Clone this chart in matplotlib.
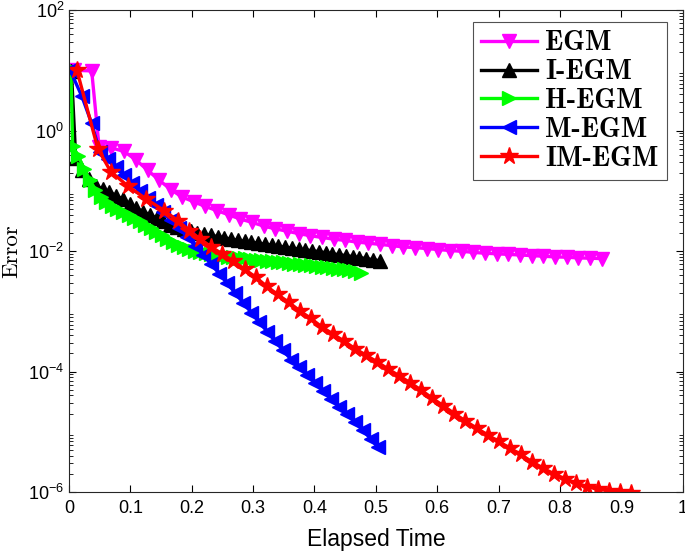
import matplotlib
matplotlib.use("Agg")
import matplotlib.pyplot as plt

# Elapsed time / error
t_egm = [0.008, 0.037, 0.049, 0.068, 0.09, 0.11, 0.128, 0.147, 0.166, 0.184, 0.203, 0.222,
         0.241, 0.26, 0.279, 0.298, 0.317, 0.336, 0.355, 0.374, 0.393, 0.412, 0.431, 0.45,
         0.469, 0.488, 0.507, 0.526, 0.545, 0.564, 0.583, 0.602, 0.621, 0.64, 0.659, 0.678,
         0.697, 0.716, 0.735, 0.754, 0.773, 0.792, 0.811, 0.83, 0.849, 0.868]
e_egm = [10.0, 9.8, 0.54, 0.52, 0.45, 0.32, 0.22, 0.15, 0.105, 0.079, 0.066, 0.055,
         0.047, 0.040, 0.034, 0.030, 0.026, 0.0234, 0.0214, 0.0195, 0.018, 0.0168, 0.0158, 0.0150,
         0.0141, 0.0135, 0.0129, 0.0123, 0.0117, 0.0114, 0.0110, 0.0106, 0.0102, 0.0099, 0.0095, 0.0092,
         0.0090, 0.0088, 0.0086, 0.0084, 0.0082, 0.0080, 0.0079, 0.0077, 0.0076, 0.0075]

t_iegm = [0.004, 0.011, 0.022, 0.033, 0.044, 0.055, 0.066, 0.077, 0.088, 0.099, 0.11, 0.121,
          0.132, 0.143, 0.154, 0.165, 0.176, 0.187, 0.198, 0.209, 0.22, 0.231, 0.242, 0.253,
          0.264, 0.275, 0.286, 0.297, 0.308, 0.319, 0.33, 0.341, 0.352, 0.363, 0.374, 0.385,
          0.396, 0.407, 0.418, 0.429, 0.44, 0.451, 0.462, 0.473, 0.484, 0.495, 0.506]
e_iegm = [9.6, 0.35, 0.22, 0.16, 0.12, 0.107, 0.095, 0.083, 0.072, 0.060, 0.051, 0.045,
          0.040, 0.035, 0.031, 0.0275, 0.025, 0.023, 0.0214, 0.020, 0.019, 0.0182, 0.0174, 0.0166,
          0.0158, 0.0151, 0.0145, 0.0140, 0.0135, 0.0130, 0.0126, 0.0120, 0.0116, 0.0112, 0.0108, 0.0105,
          0.0101, 0.0098, 0.0094, 0.0090, 0.0087, 0.0084, 0.0081, 0.0078, 0.0075, 0.0072, 0.0069]

t_hegm = [0.003, 0.006, 0.015, 0.025, 0.034, 0.043, 0.052, 0.061, 0.07, 0.079, 0.088, 0.097,
          0.106, 0.115, 0.124, 0.133, 0.142, 0.151, 0.16, 0.169, 0.178, 0.187, 0.196, 0.205,
          0.214, 0.223, 0.232, 0.241, 0.25, 0.259, 0.268, 0.277, 0.286, 0.295, 0.304, 0.313,
          0.322, 0.331, 0.34, 0.349, 0.358, 0.367, 0.376, 0.385, 0.394, 0.403, 0.412, 0.421,
          0.43, 0.439, 0.448, 0.457, 0.466, 0.475]
e_hegm = [10.5, 0.55, 0.38, 0.23, 0.151, 0.105, 0.079, 0.066, 0.056, 0.050, 0.0447, 0.0398,
          0.0355, 0.0316, 0.0275, 0.024, 0.0209, 0.0182, 0.0158, 0.0141, 0.0126, 0.0115, 0.0107, 0.0102,
          0.0098, 0.0093, 0.0090, 0.0087, 0.0084, 0.0081, 0.0079, 0.0078, 0.0076, 0.0074, 0.0072, 0.0071,
          0.0069, 0.0068, 0.0066, 0.0065, 0.0063, 0.0062, 0.0060, 0.0059, 0.0058, 0.0056, 0.0055, 0.0054,
          0.0052, 0.0051, 0.0050, 0.0049, 0.0047, 0.0044]

t_megm = [0.002, 0.021, 0.037, 0.05, 0.063, 0.076, 0.089, 0.102, 0.115, 0.128, 0.141, 0.154,
          0.167, 0.18, 0.193, 0.206, 0.219, 0.232, 0.245, 0.258, 0.271, 0.284, 0.297, 0.31,
          0.323, 0.336, 0.349, 0.362, 0.375, 0.388, 0.401, 0.414, 0.427, 0.44, 0.453, 0.466,
          0.479, 0.492, 0.503]
e_megm = [10.0, 3.7, 1.32, 0.447, 0.331, 0.245, 0.182, 0.135, 0.1, 0.0759, 0.0575, 0.0437,
          0.0324, 0.024, 0.0174, 0.0123, 0.0087, 0.0060, 0.0042, 0.0029, 0.0020, 1.38e-3, 9.5e-4, 6.6e-4,
          4.6e-4, 3.2e-4, 2.24e-4, 1.58e-4, 1.17e-4, 8.7e-5, 6.5e-5, 4.8e-5, 3.5e-5, 2.6e-5, 1.95e-5, 1.45e-5,
          1.05e-5, 7.6e-6, 5.6e-6]

t_imegm = [0.013, 0.047, 0.068, 0.096, 0.125, 0.155, 0.178, 0.196, 0.214, 0.232, 0.25, 0.268,
           0.286, 0.304, 0.322, 0.34, 0.358, 0.376, 0.394, 0.412, 0.43, 0.448, 0.466, 0.484,
           0.502, 0.52, 0.538, 0.556, 0.574, 0.592, 0.61, 0.628, 0.646, 0.664, 0.682, 0.7,
           0.718, 0.736, 0.754, 0.772, 0.79, 0.808, 0.826, 0.844, 0.862, 0.88, 0.898, 0.915]
e_imegm = [10.0, 0.50, 0.209, 0.120, 0.074, 0.047, 0.0316, 0.0219, 0.0158, 0.0117, 0.0089, 0.0068,
           0.0050, 0.0037, 0.0026, 0.0019, 1.41e-3, 1.02e-3, 7.6e-4, 5.5e-4, 4.2e-4, 3.2e-4, 2.4e-4, 1.86e-4,
           1.45e-4, 1.10e-4, 8.5e-5, 6.5e-5, 4.9e-5, 3.6e-5, 2.7e-5, 2.0e-5, 1.51e-5, 1.15e-5, 8.9e-6, 6.9e-6,
           5.4e-6, 4.2e-6, 3.2e-6, 2.5e-6, 2.0e-6, 1.66e-6, 1.41e-6, 1.23e-6, 1.12e-6, 1.05e-6, 1.0e-6, 0.98e-6]

plt.rcParams['font.family'] = 'Liberation Sans'
plt.rcParams['mathtext.fontset'] = 'custom'
plt.rcParams['mathtext.rm'] = 'Liberation Sans'
plt.rcParams['mathtext.it'] = 'Liberation Sans:italic'

fig = plt.figure(figsize=(6.85, 5.52), dpi=100)
ax = fig.add_axes([0.1007, 0.1087, 0.896, 0.873])

lw = 2.4
ax.semilogy(t_egm, e_egm, '-v', color='#ff00ff', lw=lw, ms=9.5, label='EGM')
ax.semilogy(t_iegm, e_iegm, '-^', color='k', lw=lw, ms=9.5, label='I-EGM')
ax.semilogy(t_hegm, e_hegm, '->', color='#00ff00', lw=lw, ms=9.5, label='H-EGM')
ax.semilogy(t_megm, e_megm, '-<', color='#0000ff', lw=lw, ms=9.5, label='M-EGM')
ax.semilogy(t_imegm, e_imegm, '-*', color='#ff0000', lw=lw, ms=13, label='IM-EGM')

ax.set_xlim(0, 1)
ax.set_ylim(1e-6, 1e2)
ax.set_xticks([0, 0.1, 0.2, 0.3, 0.4, 0.5, 0.6, 0.7, 0.8, 0.9, 1])
ax.set_xticklabels(['0', '0.1', '0.2', '0.3', '0.4', '0.5', '0.6', '0.7', '0.8', '0.9', '1'])
ax.set_yticks([1e-6, 1e-4, 1e-2, 1e0, 1e2])
ax.tick_params(which='both', direction='in', top=True, right=True, labelsize=13)
ax.tick_params(axis='x', pad=6)
ax.tick_params(which='major', length=5)
ax.tick_params(which='minor', length=3)
for s in ax.spines.values():
    s.set_color('#262626')
    s.set_linewidth(0.8)

ax.set_xlabel('Elapsed Time', fontsize=16.5, labelpad=8)
ax.set_ylabel('Error', fontsize=16.5, family='cmr10', labelpad=5)

leg = ax.legend(loc='upper right', bbox_to_anchor=(0.974, 0.975),
                prop={'family': 'cmb10', 'size': 20},
                handlelength=2.0, fancybox=False, edgecolor='#262626',
                borderpad=0.3, labelspacing=0.1, handletextpad=0.3,
                borderaxespad=0)
leg.get_frame().set_linewidth(0.8)

fig.savefig('out.png', dpi=100)
